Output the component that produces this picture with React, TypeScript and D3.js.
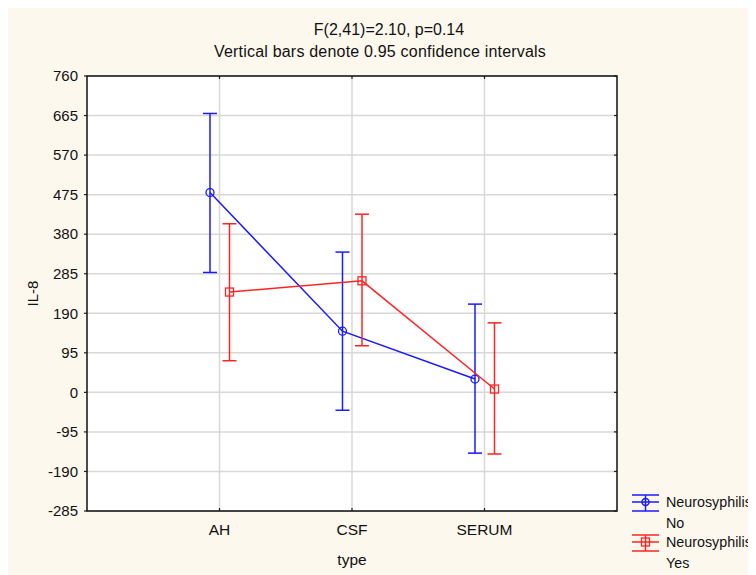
import React from "react";
import * as d3 from "d3";

const categories = ["AH", "CSF", "SERUM"];
const yTicks = [760, 665, 570, 475, 380, 285, 190, 95, 0, -95, -190, -285];
const seriesNames = ["Neurosyphilis No", "Neurosyphilis Yes"];
const noMean = [480, 147, 32];
const noLow = [288, -43, -146];
const noHigh = [670, 337, 212];
const yesMean = [241, 268, 8];
const yesLow = [76, 112, -148];
const yesHigh = [405, 428, 167];

const W = 756, H = 575;
const L = 87, R = 617, T = 76, B = 511;
const FONT = "'Liberation Sans', Arial, sans-serif";

export default function App() {
  const x = d3.scalePoint<string>().domain(categories).range([L, R]).padding(1);
  const y = d3.scaleLinear().domain([-285, 760]).range([B, T]);
  const series = [
    { name: seriesNames[0], mean: noMean, low: noLow, high: noHigh, color: "#1a1aff", dx: -9.5, marker: "circle" },
    { name: seriesNames[1], mean: yesMean, low: yesLow, high: yesHigh, color: "#ff2424", dx: 10, marker: "square" },
  ];
  const cap = 7;
  const line = d3.line<number>().x((_, i) => (x(categories[i]) as number)).y((v) => y(v));

  return (
    <svg width={748} height={567} viewBox="8 8 748 567" style={{ display: "block" }} fontFamily={FONT}>
      <rect x={8} y={8} width={W} height={H} fill="#fdf8ee" />
      <text x={389} y={35} textAnchor="middle" fontSize={16} fill="#111">F(2,41)=2.10, p=0.14</text>
      <text x={380} y={57} textAnchor="middle" fontSize={16} letterSpacing={0.2} fill="#111">Vertical bars denote 0.95 confidence intervals</text>
      <rect x={L} y={T} width={R - L} height={B - T} fill="#fff" />
      {yTicks.map((t) => (
        <line key={"gy" + t} x1={L} x2={R} y1={y(t)} y2={y(t)} stroke="#d8d8d8" strokeWidth={1.5} />
      ))}
      {categories.map((c) => (
        <line key={"gx" + c} x1={x(c)} x2={x(c)} y1={T} y2={B} stroke="#d8d8d8" strokeWidth={1.5} />
      ))}
      {yTicks.map((t) => (
        <g key={"t" + t}>
          <line x1={L - 3} x2={L} y1={y(t)} y2={y(t)} stroke="#222" strokeWidth={1.2} />
          <line x1={R - 3} x2={R} y1={y(t)} y2={y(t)} stroke="#222" strokeWidth={1.2} />
          <text x={78} y={y(t)} dy="0.35em" textAnchor="end" fontSize={15} fill="#111">{t}</text>
        </g>
      ))}
      {categories.map((c) => (
        <g key={"c" + c}>
          <line x1={x(c)} x2={x(c)} y1={T} y2={T + 3} stroke="#222" strokeWidth={1.2} />
          <line x1={x(c)} x2={x(c)} y1={B - 3} y2={B} stroke="#222" strokeWidth={1.2} />
          <text x={x(c)} y={535} textAnchor="middle" fontSize={15.5} fill="#111">{c}</text>
        </g>
      ))}
      <rect x={L} y={T} width={R - L} height={B - T} fill="none" stroke="#111" strokeWidth={1.5} />
      <text x={352} y={565} textAnchor="middle" fontSize={15.5} fill="#111">type</text>
      <text transform={`translate(38,${(T + B) / 2}) rotate(-90)`} textAnchor="middle" fontSize={15} fill="#111">IL-8</text>
      {series.map((s) => (
        <g key={s.name} transform={`translate(${s.dx},0)`}>
          <path d={line(s.mean) as string} fill="none" stroke={s.color} strokeWidth={1.5} />
          {categories.map((c, i) => {
            const cx = x(c) as number;
            return (
              <g key={c}>
                <line x1={cx} x2={cx} y1={y(s.low[i])} y2={y(s.high[i])} stroke={s.color} strokeWidth={1.5} />
                <line x1={cx - cap} x2={cx + cap} y1={y(s.low[i])} y2={y(s.low[i])} stroke={s.color} strokeWidth={1.5} />
                <line x1={cx - cap} x2={cx + cap} y1={y(s.high[i])} y2={y(s.high[i])} stroke={s.color} strokeWidth={1.5} />
                {s.marker === "circle" ? (
                  <circle cx={cx} cy={y(s.mean[i])} r={4} fill="none" stroke={s.color} strokeWidth={1.3} />
                ) : (
                  <rect x={cx - 4} y={y(s.mean[i]) - 4} width={8} height={8} fill="none" stroke={s.color} strokeWidth={1.3} />
                )}
              </g>
            );
          })}
        </g>
      ))}
      {series.map((s, k) => {
        const cy = 502 + k * 40;
        const words = s.name.split(" ");
        return (
          <g key={"lg" + k}>
            <line x1={632} x2={659} y1={cy - 7} y2={cy - 7} stroke={s.color} strokeWidth={1.5} />
            <line x1={632} x2={659} y1={cy} y2={cy} stroke={s.color} strokeWidth={1.5} />
            <line x1={632} x2={659} y1={cy + 9} y2={cy + 9} stroke={s.color} strokeWidth={1.5} />
            <line x1={645.5} x2={645.5} y1={cy - 7} y2={cy + 9} stroke={s.color} strokeWidth={1.5} />
            {s.marker === "circle" ? (
              <circle cx={645.5} cy={cy} r={3.5} fill="none" stroke={s.color} strokeWidth={1.5} />
            ) : (
              <rect x={641.5} y={cy - 4} width={8} height={8} fill="none" stroke={s.color} strokeWidth={1.3} />
            )}
            <text x={666} y={cy} dy="0.35em" fontSize={14.3} fill="#111">{words[0]}</text>
            <text x={666} y={cy + 21} dy="0.35em" fontSize={14.3} fill="#111">{words[1]}</text>
          </g>
        );
      })}
    </svg>
  );
}
